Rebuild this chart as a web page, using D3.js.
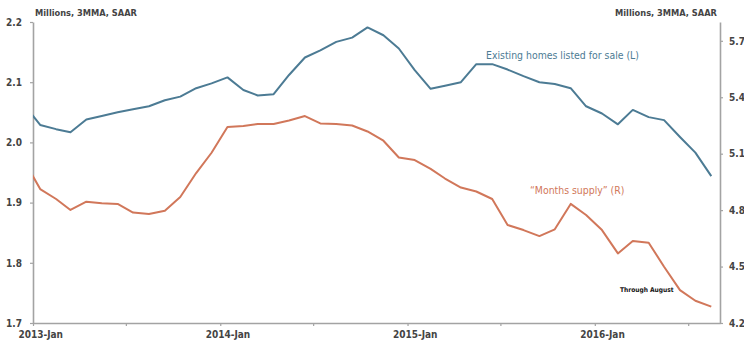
<!DOCTYPE html>
<html>
<head>
<meta charset="utf-8">
<script src="https://cdn.jsdelivr.net/npm/d3@7"></script>
<style>
  html, body { margin: 0; padding: 0; background: #fff; }
  svg { display: block; }
  text { font-family: "Liberation Sans Narrow", "DejaVu Sans Condensed", "Roboto", sans-serif; }
</style>
</head>
<body>
<svg id="chart" width="744" height="345"></svg>
<script>
// ---- data (monthly, Dec 2012 .. Aug 2016; first point lies left of the plot and is clipped) ----
const startMonth = "2012-12";
const existingHomes = [ // millions, left axis
  2.062, 2.029, 2.022, 2.017, 2.038, 2.044, 2.050, 2.055, 2.060, 2.070, 2.076, 2.090, 2.098,
  2.108, 2.087, 2.078, 2.080, 2.112, 2.141, 2.153, 2.167, 2.174, 2.191, 2.178, 2.156,
  2.120, 2.089, 2.094, 2.100, 2.130, 2.130, 2.121, 2.110, 2.100, 2.097, 2.090, 2.060,
  2.048, 2.030, 2.054, 2.042, 2.037, 2.009, 1.983, 1.944
];
const monthsSupply = [ // months, right axis
  5.061, 4.912, 4.859, 4.801, 4.845, 4.836, 4.833, 4.787, 4.779, 4.797, 4.870, 4.997, 5.105,
  5.242, 5.247, 5.258, 5.258, 5.276, 5.300, 5.261, 5.258, 5.250, 5.218, 5.169, 5.080,
  5.066, 5.019, 4.968, 4.920, 4.899, 4.859, 4.721, 4.694, 4.662, 4.698, 4.833, 4.774,
  4.694, 4.570, 4.636, 4.627, 4.499, 4.375, 4.318, 4.287
];
const leftTicks = [1.7, 1.8, 1.9, 2.0, 2.1, 2.2];
const rightTicks = [4.2, 4.5, 4.8, 5.1, 5.4, 5.7];
const xLabelYears = [2013, 2014, 2015, 2016];
const axisTitle = "Millions, 3MMA, SAAR";
const seriesLabels = ["Existing homes listed for sale (L)", "\u201cMonths supply\u201d (R)"];
const note = "Through August";

// ---- layout ----
const svg = d3.select("#chart");
const L = 33, R = 720, T = 22, B = 323;
const blue = "#4c7b94", orange = "#d1775a", axisGrey = "#a3a3a3", labelGrey = "#444";

const parse = d3.timeParse("%Y-%m");
const months = d3.range(existingHomes.length).map(i => d3.timeDay.offset(d3.timeMonth.offset(parse(startMonth), i), 14));

const x = d3.scaleTime().domain([new Date(2013, 0, 1), new Date(2016, 8, 1)]).range([L, R]);
const yL = d3.scaleLinear().domain([1.7, 2.2]).range([B, T]);
const yR = d3.scaleLinear().domain([4.2, 5.8]).range([B, T]);

svg.append("defs").append("clipPath").attr("id", "plot")
  .append("rect").attr("x", L).attr("y", 0).attr("width", R - L).attr("height", 345);

// axes
function styleAxis(g) {
  g.selectAll(".domain").attr("stroke", axisGrey).attr("stroke-width", 1.6);
  g.selectAll(".tick line").attr("stroke", axisGrey).attr("stroke-width", 1.2);
  g.selectAll("text").attr("fill", labelGrey).attr("font-size", 10).attr("font-weight", "bold")
    .attr("font-family", "'Liberation Sans Narrow', 'DejaVu Sans Condensed', Roboto, sans-serif");
}

svg.append("g").attr("transform", `translate(${L},0)`)
  .call(d3.axisLeft(yL).tickValues(leftTicks).tickSize(3).tickSizeOuter(0).tickPadding(8).tickFormat(d3.format(".1f")))
  .call(styleAxis);

svg.append("g").attr("transform", `translate(${R},0)`)
  .call(d3.axisRight(yR).tickValues(rightTicks).tickSize(3).tickSizeOuter(0).tickPadding(6).tickFormat(d3.format(".1f")))
  .call(styleAxis);

svg.append("g").attr("transform", `translate(0,${B})`)
  .call(d3.axisBottom(x).ticks(d3.timeMonth.every(6)).tickSize(3).tickSizeOuter(0).tickFormat(""))
  .call(styleAxis);

svg.append("g").attr("transform", `translate(0,${B})`)
  .call(d3.axisBottom(x).tickValues(xLabelYears.map(y => new Date(y, 0, 15))).tickSize(0).tickPadding(8)
    .tickFormat(d3.timeFormat("%Y-%b")))
  .call(styleAxis)
  .call(g => g.select(".domain").remove());

// axis titles
svg.append("text").attr("x", L + 2).attr("y", 16).attr("font-size", 9.2).attr("font-weight", "bold")
  .attr("fill", labelGrey).text(axisTitle);
svg.append("text").attr("x", R - 3).attr("y", 16).attr("text-anchor", "end").attr("font-size", 9.2)
  .attr("font-weight", "bold").attr("fill", labelGrey).text(axisTitle);

// lines
const plot = svg.append("g").attr("clip-path", "url(#plot)");
plot.append("path").datum(existingHomes)
  .attr("fill", "none").attr("stroke", blue).attr("stroke-width", 2).attr("stroke-linejoin", "round")
  .attr("d", d3.line().x((d, i) => x(months[i])).y(d => yL(d)));
plot.append("path").datum(monthsSupply)
  .attr("fill", "none").attr("stroke", orange).attr("stroke-width", 2).attr("stroke-linejoin", "round")
  .attr("d", d3.line().x((d, i) => x(months[i])).y(d => yR(d)));

// series labels
svg.append("text").attr("x", 486).attr("y", 59).attr("font-size", 10.4).attr("fill", blue).text(seriesLabels[0]);
svg.append("text").attr("x", 530).attr("y", 194).attr("font-size", 10.4).attr("fill", orange).text(seriesLabels[1]);
svg.append("text").attr("x", 620).attr("y", 292).attr("font-size", 6.6).attr("font-weight", "bold")
  .attr("fill", "#111").text(note);
</script>
</body>
</html>
